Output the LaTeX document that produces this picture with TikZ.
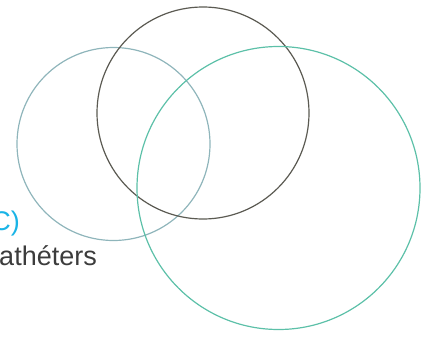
\documentclass[tikz,border=0pt]{standalone}
\usepackage{fontspec}
\setmainfont{Liberation Sans}
\definecolor{ringblue}{HTML}{8FB5BB}
\definecolor{ringgrey}{HTML}{5B5A52}
\definecolor{ringteal}{HTML}{5CC0A8}
\definecolor{labelcyan}{HTML}{1AB4E6}
\definecolor{labeldark}{HTML}{3C3C3C}
\tikzset{
  ring/.style={circle, draw, line width=1.2pt, inner sep=0pt},
  lbl/.style={inner sep=0pt, anchor=base east, font=\fontsize{27}{32}\selectfont}
}
\begin{document}
\begin{tikzpicture}[x=1pt,y=-1pt]
    \useasboundingbox (0,0) rectangle (425,337);
    \node[ring, ringblue, minimum size=193pt] (L) at (113.5,144) {};
    \node[ring, ringgrey, minimum size=212pt] (T) at (203,113) {};
    \node[ring, ringteal, minimum size=283pt] (R) at (278.5,188) {};
    \node[lbl, labelcyan] (picc) at (20,230) {C)};
    \node[lbl, labeldark] (cath) at (97,265) {athéters};
\end{tikzpicture}
\end{document}
